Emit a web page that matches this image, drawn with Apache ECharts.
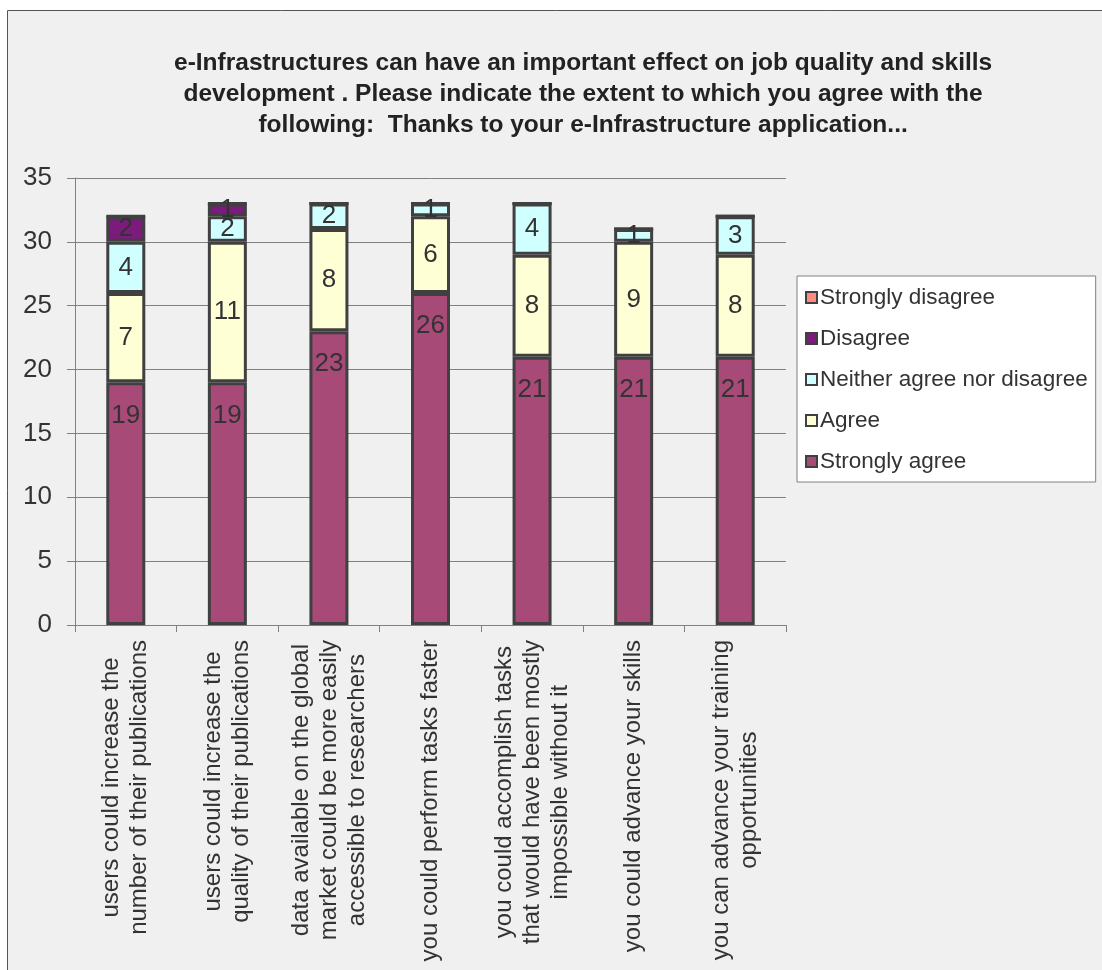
<!DOCTYPE html>
<html>
<head>
<meta charset="utf-8">
<script src="https://cdn.jsdelivr.net/npm/echarts@6/dist/echarts.min.js"></script>
<style>
html,body{margin:0;padding:0;background:#fff;}
#chart{width:1102px;height:970px;}
</style>
</head>
<body>
<div id="chart"></div>
<script>
var categories = [
  "users could increase the\nnumber of their publications",
  "users could increase the\nquality of their publications",
  "data available on the global\nmarket could be more easily\naccessible to researchers",
  "you could perform tasks faster",
  "you could accomplish tasks\nthat would have been mostly\nimpossible without it",
  "you could advance your skills",
  "you can advance your training\nopportunities"
];
var seriesNames = ["Strongly agree", "Agree", "Neither agree nor disagree", "Disagree", "Strongly disagree"];
var stronglyAgree = [19, 19, 23, 26, 21, 21, 21];
var agree = [7, 11, 8, 6, 8, 9, 8];
var neither = [4, 2, 2, 1, 4, 1, 3];
var disagree = [2, 1, 0, 0, 0, 0, 0];
var stronglyDisagree = [0, 0, 0, 0, 0, 0, 0];
var yTicks = { min: 0, max: 35, interval: 5 };
var titleLines = [
  "e-Infrastructures can have an important effect on job quality and skills",
  "development . Please indicate the extent to which you agree with the",
  "following:  Thanks to your e-Infrastructure application..."
];

var colors = ["#A84A78", "#FFFFD6", "#D0FFFF", "#7B1B7B", "#FF8A80"];
var values = [stronglyAgree, agree, neither, disagree, stronglyDisagree];

var chart = echarts.init(document.getElementById('chart'), null, { renderer: 'canvas' });

var series = seriesNames.map(function (name, i) {
  return {
    name: name,
    type: 'bar',
    stack: 'total',
    barWidth: 39,
    data: values[i],
    itemStyle: { color: colors[i], borderColor: '#404040', borderWidth: 3 },
    emphasis: { disabled: true },
    label: {
      show: true,
      position: i === 0 ? 'insideTop' : 'inside',
      distance: 20,
      color: '#333',
      fontFamily: 'Liberation Sans',
      fontSize: 26,
      textBorderWidth: 0,
      formatter: function (p) { return p.value ? String(p.value) : ''; }
    }
  };
});

var option = {
  backgroundColor: '#ffffff',
  animation: false,
  graphic: [{
    type: 'rect', z: -100, silent: true,
    shape: { x: 7.5, y: 10.5, width: 1200, height: 1000 },
    style: { fill: '#f0f0f0', stroke: '#555555', lineWidth: 1 }
  }],
  title: {
    text: titleLines.map(function (l) { return '{t|' + l + '}'; }).join('\n'),
    left: 174,
    top: 48,
    textAlign: 'left',
    padding: 0,
    textStyle: {
      rich: { t: { align: 'center', fontFamily: 'Liberation Sans', fontSize: 24.5, fontWeight: 'bold', color: '#222', lineHeight: 31 } }
    }
  },
  legend: {
    orient: 'vertical',
    left: 797,
    top: 276,
    padding: [10, 8, 9, 8],
    backgroundColor: '#ffffff',
    borderColor: '#808080',
    borderWidth: 1,
    borderRadius: 0,
    icon: 'rect',
    itemWidth: 11,
    itemHeight: 11,
    itemGap: 18,
    data: seriesNames.slice().reverse(),
    textStyle: { fontFamily: 'Liberation Sans', fontSize: 22.5, color: '#333', lineHeight: 20, width: 264, padding: [0, 0, 0, -2] }
  },
  grid: { left: 75, right: 316, top: 178, bottom: 345, containLabel: false },
  xAxis: {
    type: 'category',
    data: categories,
    axisLine: { show: true, lineStyle: { color: '#808080', width: 1 } },
    axisTick: { show: true, length: 7, interval: 0, lineStyle: { color: '#808080' } },
    axisLabel: {
      interval: 0,
      rotate: 90,
      margin: 15,
      color: '#333',
      formatter: function (v) {
        return v.split('\n').map(function (l) { return '{c|' + l + '}'; }).join('\n');
      },
      rich: { c: { align: 'center', fontFamily: 'Liberation Sans', fontSize: 24, lineHeight: 28, color: '#333' } }
    }
  },
  yAxis: {
    type: 'value',
    min: yTicks.min,
    max: yTicks.max,
    interval: yTicks.interval,
    axisLine: { show: true, lineStyle: { color: '#808080', width: 1 } },
    axisTick: { show: true, length: 8, lineStyle: { color: '#808080' } },
    axisLabel: { margin: 23, color: '#333', fontFamily: 'Liberation Sans', fontSize: 26 },
    splitLine: { show: true, lineStyle: { color: '#808080', width: 1 } }
  },
  series: series
};
chart.setOption(option);
</script>
</body>
</html>
